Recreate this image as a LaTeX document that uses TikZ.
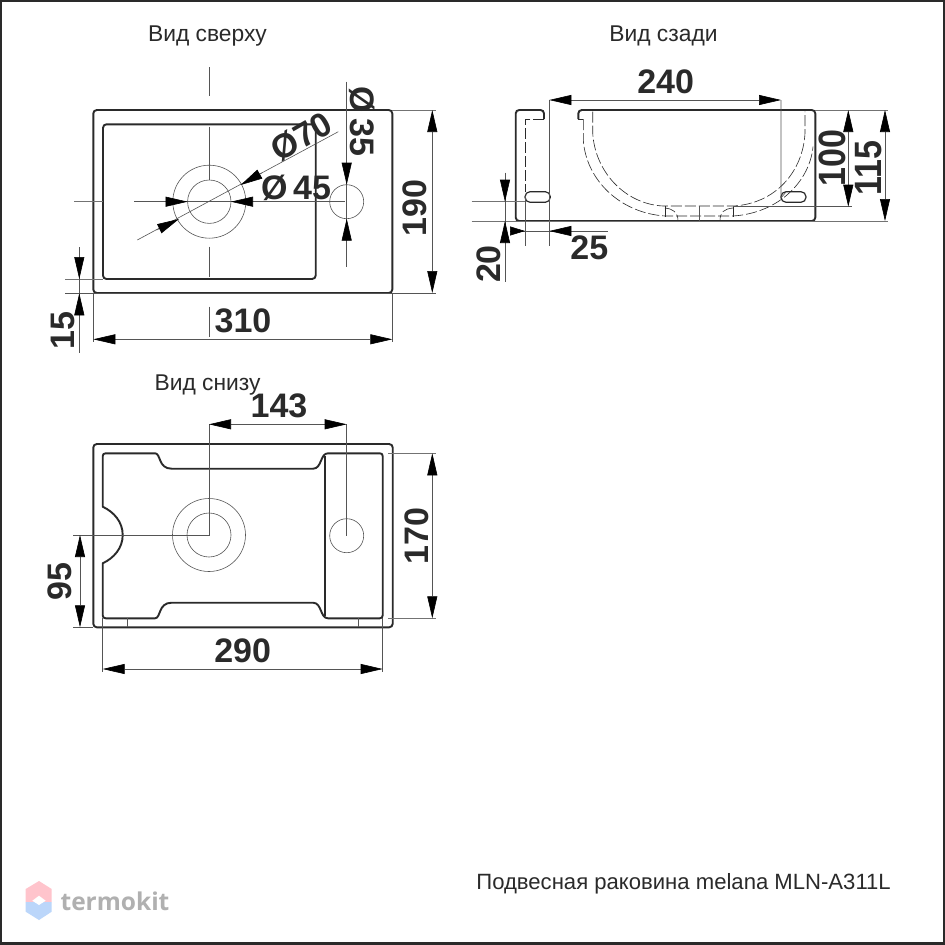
\documentclass[tikz,border=0pt]{standalone}
\usepackage{fontspec}
\usepackage{graphicx}
\setmainfont{Liberation Sans}
\newfontfamily\logofont{Open Sans}
\usetikzlibrary{arrows.meta}
\definecolor{ink}{HTML}{2A2A2A}
\definecolor{thin}{HTML}{555555}
\definecolor{logotext}{HTML}{B0B0B0}
\definecolor{logopink}{HTML}{FFC4CC}
\definecolor{logoblue}{HTML}{BBD6FA}
\newcommand{\tallnum}[1]{\scalebox{1}[1.12]{#1}}
\tikzset{
  outline/.style={draw=ink,line width=1.9pt,rounded corners=3.5pt},
  hair/.style={draw=thin,line width=0.6pt},
  grayline/.style={draw=black!55,line width=0.8pt},
  hid/.style={draw=ink,line width=0.6pt,dash pattern=on 11pt off 3pt},
  dim/.style={hair,{Triangle[length=22pt,width=10pt,black]}-{Triangle[length=22pt,width=10pt,black]}},
  dimend/.style={hair,-{Triangle[length=22pt,width=10pt,black]}},
  num/.style={inner sep=0pt,text=ink,font=\fontsize{34}{34}\selectfont\bfseries},
  title/.style={inner sep=0pt,anchor=base,text=ink,font=\fontsize{22.8}{22.8}\selectfont},
}
\begin{document}
\begin{tikzpicture}[x=1pt,y=-1pt]
\useasboundingbox (0,0) rectangle (945,945);
\fill[white] (0,0) rectangle (945,945);
\draw[ink,line width=2.4pt] (1,1) rectangle (944,943.5);

% --- titles
\node[title] (t1) at (207.5,41) {Вид сверху};
\node[title] (t2) at (663.5,41) {Вид сзади};
\node[title] (t3) at (207.5,390) {Вид снизу};
\node[title,anchor=base east,font=\fontsize{22.1}{22.1}\selectfont] (t4) at (891,889) {Подвесная раковина melana MLN-A311L};

% --- top view
\draw[outline] (93.3,110) rectangle (392.3,293);
\draw[outline] (103,124.3) rectangle (315.7,279);
\draw[hair] (209.3,201.7) circle (36.5);
\draw[hair] (209.3,201.7) circle (21.7);
\draw[hair] (346.7,201.7) circle (17);
\draw[hair] (209.3,67) -- (209.3,96);
\draw[hair] (209.3,126.7) -- (209.3,180);
\draw[hair] (209.3,246.7) -- (209.3,276.7);
\draw[hair] (209.3,306.7) -- (209.3,336.7);
\draw[grayline] (74,201.7) -- (103,201.7);
\draw[hair] (134,201.7) -- (345,201.7);
\draw[hair] (137.3,240) -- (338.3,131.7);
\draw[hair] (346.7,81.7) -- (346.7,266.7);
% dia 70 arrows
\draw[dimend] (156.7,230) -- (179,219);
\draw[dimend] (261.7,173) -- (240.7,185);
% dia 45 arrows
\draw[dimend] (163,201.7) -- (187.6,201.7);
\draw[dimend] (254.5,201.7) -- (231,201.7);
% dia 35 arrows
\draw[dimend] (346.7,160.7) -- (346.7,184.7);
\draw[dimend] (346.7,242.7) -- (346.7,218.7);
% 190
\draw[grayline] (392.3,110) -- (435.7,110);
\draw[hair] (65,293) -- (435.7,293);
\draw[dim] (432.3,110) -- (432.3,293);
% 310
\draw[hair] (93.3,293) -- (93.3,342);
\draw[hair] (392.3,293) -- (392.3,342);
\draw[dim] (93.3,339.3) -- (392.3,339.3);
% 15
\draw[grayline] (65,279) -- (103,279);
\draw[hair] (79.3,247.3) -- (79.3,353);
\draw[dimend] (79.3,258) -- (79.3,279);
\draw[dimend] (79.3,315) -- (79.3,293.3);
\node[num] (n310) at (243,320.7) {310};
\node[num,rotate=90] (n190) at (415,208) {190};
\node[num,rotate=90] (n15) at (63,330.7) {15};
\node[num,rotate=30] (n70) at (301.7,136.7) {Ø70};
\node[num] (n45) at (296,187.7) {Ø\,45};
\node[num,rotate=-90] (n35) at (361.7,121.7) {Ø\,35};

% --- back view
\draw[outline] (544,119) -- (544,110) -- (515.7,110) -- (515.7,221) -- (815.3,221) -- (815.3,110) -- (578.3,110) -- (578.3,119);
\draw[draw=ink,line width=0.8pt] (578.3,119) -- (583.3,119);
\draw[hid] (544,119) -- (525,119) -- (525,191.7);
\draw[hid] (583.3,119) -- (583.3,140) .. controls (586,180) and (620,213) .. (665,216) -- (733,216) .. controls (780,213) and (810,180) .. (813,146.7);
\draw[hid] (592.7,111.7) -- (592.7,133) .. controls (595,172) and (625,204) .. (663,206) -- (733,206) .. controls (775,204) and (803,172) .. (805,133) -- (805,111.7);
\draw[hid] (665,206) -- (665,221);
\draw[hid] (733.3,206) -- (733.3,221);
\draw[hair] (699.3,206) -- (699.3,221);
\draw[hid] (665,208) .. controls (673,209) and (678,212) .. (678,221);
\draw[hid] (733,208) .. controls (724,209) and (720,212) .. (720,221);
\draw[draw=ink,line width=1.2pt,rounded corners=5pt] (525,191.7) rectangle (550.3,202.3);
\draw[draw=ink,line width=1.2pt,rounded corners=5pt] (781,191.7) rectangle (806,202.3);
% 240
\draw[hair] (549.3,100) -- (549.3,246);
\draw[hair] (781,100) -- (781,198) -- (786,192);
\draw[dim] (549.3,100) -- (781,100);
\node[num] (n240) at (665.7,81.7) {240};
% 100
\draw[hair] (733,206.7) -- (851.7,206.7);
\draw[grayline] (815.3,110) -- (888,110);
\draw[dim] (848.3,110) -- (848.3,206.7);
\node[num,rotate=90] (n100) at (832.5,158) {\tallnum{100}};
% 115
\draw[grayline] (471.7,221) -- (888,221);
\draw[dim] (885,110) -- (885,221);
\node[num,rotate=90] (n115) at (869,168.3) {\tallnum{115}};
% 20
\draw[grayline] (471.7,201.7) -- (525,201.7);
\draw[hair] (505,172.7) -- (505,281.7);
\draw[dimend] (505,180) -- (505,201.7);
\draw[dimend] (505,241.7) -- (505,221);
\node[num,rotate=90] (n20) at (488.3,264) {20};
% 25
\draw[hair] (525,196) -- (525,246);
\draw[hair] (510,231) -- (608,231);
\draw[hair,-{Triangle[length=15pt,width=9pt,black]}] (510,231) -- (525,231);
\draw[dimend] (570,231) -- (549.3,231);
\node[num] (n25) at (589.3,247.7) {25};

% --- bottom view
\draw[outline] (93.3,444) rectangle (392.7,627.3);
\draw[draw=ink,line width=1.9pt,line join=round]
  (102.7,506.7) -- (102.7,456.3) .. controls (102.7,454.3) and (103.7,453.3) .. (105.7,453.3)
  -- (155,453.3) .. controls (161,453.3) and (158,468.7) .. (171.7,468.7)
  -- (313,468.7) .. controls (322,468.7) and (320,453.3) .. (328,453.3)
  -- (379.7,453.3) .. controls (381.7,453.3) and (382.7,454.3) .. (382.7,456.3)
  -- (382.7,615.3) .. controls (382.7,617.3) and (381.7,618.3) .. (379.7,618.3)
  -- (328,618.3) .. controls (320,618.3) and (322,602.7) .. (313,602.7)
  -- (171.7,602.7) .. controls (158,602.7) and (161,618.3) .. (155,618.3)
  -- (105.7,618.3) .. controls (103.7,618.3) and (102.7,617.3) .. (102.7,615.3)
  -- (102.7,563.3) .. controls (114,558) and (122.7,548) .. (122.7,535)
  .. controls (122.7,522) and (114,512) .. (102.7,506.7) -- cycle;
\draw[draw=ink,line width=1.9pt] (325,456) -- (325,615.5);
\draw[hair] (209,535) circle (36.5);
\draw[hair] (209,535) circle (22);
\draw[hair] (346.7,535.7) circle (17);
\draw[hair] (127.3,618.3) -- (127.3,627.3);
\draw[hair] (358.3,618.3) -- (358.3,627.3);
% 143
\draw[hair] (209,424.3) -- (209,535) -- (73.3,535);
\draw[hair] (346.7,424.3) -- (346.7,535.7);
\draw[dim] (209,424.3) -- (346.7,424.3);
\node[num] (n143) at (279,406) {143};
% 95
\draw[hair] (73.3,627.3) -- (93.3,627.3);
\draw[dim] (80,535) -- (80,627.3);
\node[num,rotate=90] (n95) at (59.3,581.7) {95};
% 170
\draw[grayline] (388,453.3) -- (435.7,453.3);
\draw[grayline] (388,618.3) -- (435.7,618.3);
\draw[dim] (432.3,453.3) -- (432.3,618.3);
\node[num,rotate=90] (n170) at (416.7,535.7) {170};
% 290
\draw[hair] (102.7,618.3) -- (102.7,671.7);
\draw[hair] (382.7,618.3) -- (382.7,671.7);
\draw[dim] (102.7,669) -- (382.7,669);
\node[num] (n290) at (242.7,651) {290};

% --- logo
\fill[logopink] (25.7,902) -- (25.7,889) -- (39,881) -- (51.7,889) -- (51.7,902) -- cycle;
\fill[logoblue] (25.7,902) -- (25.7,911.7) -- (39,920) -- (51.7,911.7) -- (51.7,902) -- cycle;
\fill[white] (39,895.7) -- (45.7,900.7) -- (39,905) -- (32.3,900.7) -- cycle;
\node[inner sep=0pt,text=logotext,font=\logofont\fontsize{24.5}{24.5}\selectfont\bfseries] (logo) at (115,901) {termokit};
\end{tikzpicture}
\end{document}
